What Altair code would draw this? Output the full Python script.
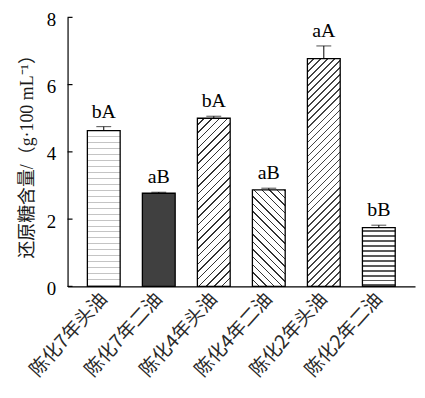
import math
import altair as alt
import pandas as pd

categories = ["陈化7年头油", "陈化7年二油", "陈化4年头油", "陈化4年二油", "陈化2年头油", "陈化2年二油"]
means = [4.63, 2.77, 5.00, 2.87, 6.77, 1.75]
errors = [0.12, 0.03, 0.06, 0.05, 0.38, 0.07]
letters = ["bA", "aB", "bA", "aB", "aA", "bB"]
y_ticks = [0, 2, 4, 6, 8]
y_max = 8

W, H = 350, 271
PAD_INNER, PAD_OUTER = 0.404, 0.36
step = W / (len(categories) - PAD_INNER + 2 * PAD_OUTER)
bw = step * (1 - PAD_INNER)

df = pd.DataFrame({
    "cat": categories,
    "mean": means,
    "err": errors,
    "letter": letters,
})
df["top"] = df["mean"] + df["err"]
ticks_df = pd.DataFrame({"v": y_ticks})

SERIF = "Liberation Serif, Noto Sans CJK SC"


def stripe_stops(n, frac, color, bg="white"):
    stops = []
    for k in range(n):
        a = k / n
        b = (k + 1 - frac) / n
        c = (k + 1) / n
        stops += [
            alt.GradientStop(offset=a, color=bg),
            alt.GradientStop(offset=b, color=bg),
            alt.GradientStop(offset=b, color=color),
            alt.GradientStop(offset=c, color=color),
        ]
    return stops


def diag(value, spacing, thick, color, direction):
    h = value / y_max * H
    w = bw
    k = (w + h) / (w * w + h * h)
    n = max(1, round((w + h) / math.sqrt(2) / spacing))
    stops = stripe_stops(n, thick / spacing, color)
    if direction == "up":
        return alt.Gradient(gradient="linear", stops=stops, x1=0, y1=0, x2=k * w, y2=k * h)
    return alt.Gradient(gradient="linear", stops=stops, x1=0, y1=1, x2=k * w, y2=1 - k * h)


def horiz(value, spacing, thick, color):
    h = value / y_max * H
    n = max(1, round(h / spacing))
    stops = stripe_stops(n, thick / spacing, color)
    return alt.Gradient(gradient="linear", stops=stops, x1=0, y1=0, x2=0, y2=1)


fills = [
    horiz(means[0], 6, 1.0, "#c4c4c4"),
    "#404040",
    diag(means[2], 5.5, 1.0, "#333333", "up"),
    diag(means[3], 5.5, 1.0, "#333333", "down"),
    diag(means[4], 5.0, 1.1, "#444444", "up"),
    horiz(means[5], 5.0, 2.0, "#5a5a5a"),
]

x_enc = alt.X("cat:N", sort=categories,
              scale=alt.Scale(paddingInner=PAD_INNER, paddingOuter=PAD_OUTER),
              axis=alt.Axis(title=None, labelAngle=-48, labelAlign="right", labelBaseline="middle",
                            labelFont="Noto Sans CJK SC", labelFontSize=19,
                            labelColor="#2a2a2a",
                            ticks=False, domainColor="black", domainWidth=1.2, labelPadding=9,
                            labelLimit=250))
y_scale = alt.Scale(domain=[0, y_max], nice=False, zero=True)
y_enc = alt.Y("mean:Q", scale=y_scale,
              axis=alt.Axis(values=y_ticks, title="还原糖含量/（g·100 mL⁻¹）", titleFont=SERIF,
                            titleFontSize=18, titleFontWeight="normal", titleColor="#1a1a1a",
                            titlePadding=10, labelFont="Liberation Serif", labelFontSize=19,
                            labelColor="black", ticks=False, labelPadding=12, labelOffset=2,
                            domainColor="black", domainWidth=1.2, grid=False))

base = alt.Chart(df)
layers = []
for i, cat in enumerate(categories):
    layers.append(
        base.transform_filter(alt.datum.cat == cat)
        .mark_bar(fill=fills[i], stroke="black", strokeWidth=1.3)
        .encode(x=x_enc, y=y_enc)
    )

err_rule = base.mark_rule(color="black", strokeWidth=1).encode(
    x=alt.X("cat:N", sort=categories), y=alt.Y("mean:Q"), y2="top:Q")
err_cap = base.mark_tick(color="black", size=15, thickness=1).encode(
    x=alt.X("cat:N", sort=categories), y=alt.Y("top:Q"))
text = base.mark_text(baseline="bottom", dy=-5, font="Liberation Serif", fontSize=20,
                      color="black").encode(
    x=alt.X("cat:N", sort=categories), y=alt.Y("top:Q"), text="letter:N")
inner_ticks = alt.Chart(ticks_df).mark_rule(color="black", strokeWidth=1.2).encode(
    y=alt.Y("v:Q", scale=y_scale), x=alt.value(0), x2=alt.value(5))

chart = alt.layer(*layers, err_rule, err_cap, text, inner_ticks).properties(
    width=W, height=H,
    autosize=alt.AutoSizeParams(type="none"),
    padding={"left": 60, "top": 8, "right": 2, "bottom": 110},
).configure(background="white").configure_view(stroke="transparent", strokeWidth=0)

chart.save("out.html", embed_options={"renderer": "svg", "actions": False})
